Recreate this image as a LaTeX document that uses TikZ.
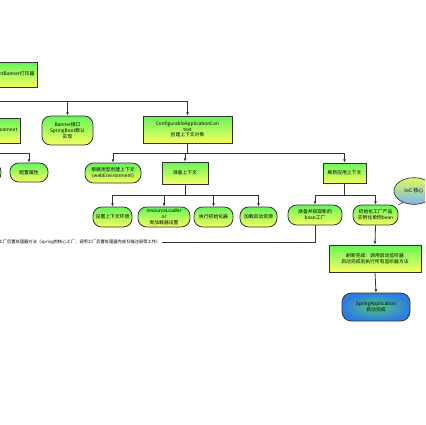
\documentclass[tikz,border=0pt]{standalone}
\usepackage{fontspec}
\setmainfont{Noto Sans CJK SC}
\usetikzlibrary{arrows.meta,shapes.geometric}
\definecolor{grn}{RGB}{102,245,90}
\definecolor{ylw}{RGB}{245,255,95}
\definecolor{blu}{RGB}{45,125,225}
\definecolor{mint}{RGB}{80,200,120}
\begin{document}
\begin{tikzpicture}[x=.75pt,y=-.75pt,
  box/.style={draw=black!80,line width=.6pt,top color=grn,bottom color=ylw,
    inner sep=.5pt,align=center,font=\fontsize{3.6}{4.3}\selectfont},
  pill/.style={box,rounded corners=6.5pt},
  arr/.style={draw=black!80,line width=.6pt,-{Latex[length=2.5pt,width=2.2pt]}},
  wire/.style={draw=black!80,line width=.6pt}]
\useasboundingbox (0,0) rectangle (425,425);
\clip (0,0) rectangle (425,425);
% first level
\node[box,text width=59pt,align=right,inner xsep=2pt,minimum height=18.75pt] (banprint) at (-5,74.5) {printBanner打印器};
\node[box,text width=56pt,align=right,inner xsep=2pt,minimum height=18.75pt] (env) at (-20,130.5) {ConfigurableEnvironment};
\node[pill,minimum width=38.25pt,minimum height=21.75pt] (banner) at (67.5,130.5) {Banner接口\\SpringBoot默认\\实现};
\node[box,minimum width=66.75pt,minimum height=20.25pt] (cac) at (187.5,129.5) {ConfigurableApplicationCon\\text\\创建上下文对象};
\draw[arr] (banprint.south) -- ++(0,14) -| (env.north);
\draw[arr] (banprint.south) -- ++(0,14) -| (banner.north);
\draw[arr] (banprint.south) -- ++(0,14) -| (cac.north);
% environment
\node[pill,minimum width=30pt,minimum height=14.25pt] (envstub) at (-19,172.5) {配置环境};
\node[pill,minimum width=28.5pt,minimum height=14.25pt] (envcfg) at (29,172.5) {配置属性};
\draw[arr] (env.south) -- ++(0,10) -| (envstub.north);
\draw[arr] (env.south) -- ++(0,10) -| (envcfg.north);
% context
\node[pill,minimum width=42pt,minimum height=15pt] (ctxtype) at (113,173) {根据类型创建上下文\\(webEnvironment)};
\node[box,minimum width=34.5pt,minimum height=16.5pt] (prepare) at (185,173) {准备上下文};
\node[box,minimum width=32.25pt,minimum height=15pt] (refresh) at (344.5,173) {刷新应用上下文};
\draw[arr] (cac.south) -- ++(0,9.5) -| (ctxtype.north);
\draw[arr] (cac.south) -- ++(0,9.5) -| (prepare.north);
\draw[arr] (cac.south) -- ++(0,9.5) -| (refresh.north);
% prepare context
\node[pill,minimum width=29.25pt,minimum height=15pt] (setenv) at (112.5,217) {设置上下文环境};
\node[pill,minimum width=39pt,minimum height=15pt] (loader) at (164,217) {resourceLoader\\or\\类加载器设置};
\node[pill,minimum width=29.25pt,minimum height=15pt] (initer) at (213.5,217) {执行初始化器};
\node[pill,minimum width=27.75pt,minimum height=15pt] (sources) at (258.5,217) {加载启动资源};
\draw[arr] (prepare.south) -- ++(0,11) -| (setenv.north);
\draw[arr] (prepare.south) -- ++(0,11) -| (loader.north);
\draw[arr] (prepare.south) -- ++(0,11) -| (initer.north);
\draw[arr] (prepare.south) -- ++(0,11) -| (sources.north);
% refresh context
\node[pill,minimum width=40.5pt,minimum height=15pt] (beanfac) at (315,215) {准备并获取新的\\bean工厂};
\node[pill,minimum width=33.75pt,minimum height=15pt] (singleton) at (375.5,215) {初始化工厂产品\\实例化单例bean};
\draw[arr] (refresh.south) -- ++(0,12) -| (beanfac.north);
\draw[arr] (refresh.south) -- ++(0,12) -| (singleton.north);
\node[ellipse,draw=black!80,line width=.5pt,top color=ylw!80!grn,bottom color=blu!60,
  minimum width=30pt,minimum height=20pt,inner sep=0pt,
  font=\fontsize{3.8}{4.5}\selectfont] (ioc) at (414,191) {IoC 核心};
\draw[wire,line width=.5pt] (ioc.225) to[out=240,in=30] (singleton.north east);
\node[anchor=east,inner sep=1pt,font=\fontsize{3.2}{3.8}\selectfont] (note) at (162,242)
  {调用工厂后置处理器方法（spring的核心工厂，调用工厂后置处理器完成扫描注册等工作）};
\draw[wire] (beanfac.south) |- (note.east);
% finish
\node[box,minimum width=69pt,minimum height=20.25pt] (finish) at (375,258.5) {刷新完成：调用启动监听器\\启动完成后执行所有监听器方法};
\node[box,rounded corners=7pt,shading=radial,inner color=mint,outer color=blu,
  minimum width=51pt,minimum height=21pt] (done) at (376,307) {SpringApplication\\启动完成};
\draw[arr] (singleton.south) -- (finish.north);
\draw[arr] (finish.south) -- (done.north);
\end{tikzpicture}
\end{document}
